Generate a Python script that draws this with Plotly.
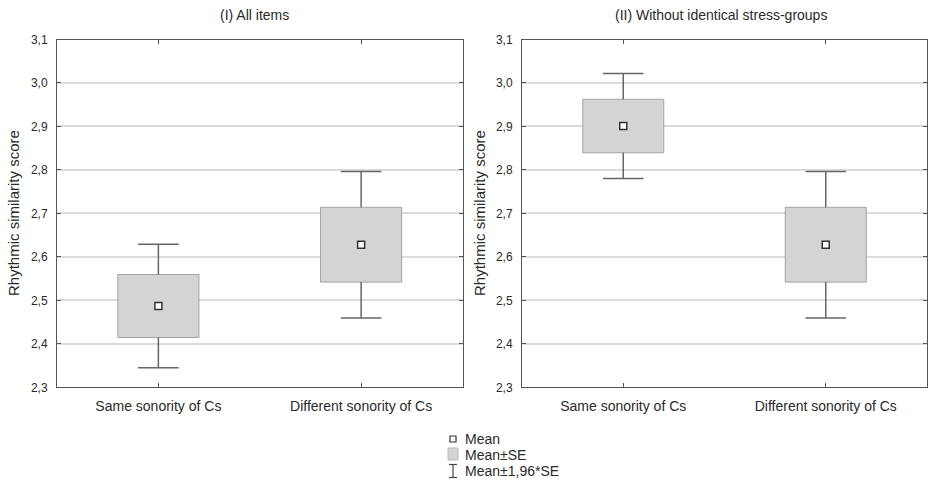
import plotly.graph_objects as go

categories = ["Same sonority of Cs", "Different sonority of Cs"]
panel_titles = ["(I) All items", "(II) Without identical stress-groups"]
means_I = [2.487, 2.628]
se_I = [0.0725, 0.086]
means_II = [2.901, 2.628]
se_II = [0.0615, 0.086]
y_ticks = [2.3, 2.4, 2.5, 2.6, 2.7, 2.8, 2.9, 3.0, 3.1]
z = 1.96

W, H = 928, 483
def px(x):
    return x / W
def py(y):
    return 1 - y / H

FONT = "Liberation Sans, Arial, sans-serif"
TXT = "#2a2a2a"

fig = go.Figure()

panels = [(means_I, se_I, "x", "y"), (means_II, se_II, "x2", "y2")]
for means, ses, xa, ya in panels:
    xs = list(range(len(categories)))
    fig.add_trace(go.Bar(
        x=xs, y=[2 * s for s in ses], base=[m - s for m, s in zip(means, ses)],
        width=0.4, marker=dict(color="#d4d4d4", line=dict(color="#a3a3a3", width=1)),
        xaxis=xa, yaxis=ya, showlegend=False, hoverinfo="skip"))
    wx, wy = [], []
    for i, (m, s) in enumerate(zip(means, ses)):
        for sign in (1, -1):
            wx += [i, i, None, i - 0.1, i + 0.1, None]
            wy += [m + sign * s, m + sign * z * s, None, m + sign * z * s, m + sign * z * s, None]
    fig.add_trace(go.Scatter(x=wx, y=wy, mode="lines", line=dict(color="#666666", width=1.5),
                             xaxis=xa, yaxis=ya, showlegend=False, hoverinfo="skip"))
    fig.add_trace(go.Scatter(x=xs, y=means, mode="markers",
                             marker=dict(symbol="square", size=7, color="white",
                                         line=dict(color="#333333", width=1.5)),
                             xaxis=xa, yaxis=ya, showlegend=False, hoverinfo="skip"))

axis_common = dict(showline=True, linecolor="#555555", linewidth=1, mirror="ticks",
                   ticks="inside", ticklen=4, tickcolor="#555555", zeroline=False,
                   automargin=False)

ydom = [py(387.3), py(39.5)]
xfont = dict(family=FONT, size=14, color=TXT)
yfont = dict(family=FONT, size=12, color=TXT)
fig.update_layout(
    template="none",
    width=W, height=H, margin=dict(l=0, r=0, t=0, b=0, pad=0, autoexpand=False),
    paper_bgcolor="white", plot_bgcolor="white", separators=", ",
    showlegend=False, barmode="overlay",
    xaxis=dict(domain=[px(57), px(462.5)], range=[-0.5, 1.5], tickvals=[0, 1], ticklabelstandoff=6,
               ticktext=categories, showgrid=False, anchor="y", tickfont=xfont, **axis_common),
    yaxis=dict(domain=ydom, range=[2.3, 3.1], tickvals=y_ticks, tickformat=".1f", tickfont=yfont,
               ticklabelstandoff=6,
               showgrid=True, gridcolor="#dcdcdc", gridwidth=1.5, anchor="x", **axis_common),
    xaxis2=dict(domain=[px(522), px(927)], range=[-0.5, 1.5], tickvals=[0, 1], ticklabelstandoff=6,
                ticktext=categories, showgrid=False, anchor="y2", tickfont=xfont, **axis_common),
    yaxis2=dict(domain=ydom, range=[2.3, 3.1], tickvals=y_ticks, tickformat=".1f", tickfont=yfont,
                ticklabelstandoff=6,
                showgrid=True, gridcolor="#dcdcdc", gridwidth=1.5, anchor="x2", **axis_common),
)

ann = []
for cx, t in zip([255, 721], panel_titles):
    ann.append(dict(x=px(cx), y=py(15), xref="paper", yref="paper", text=t, showarrow=False,
                    xanchor="center", yanchor="middle", font=dict(family=FONT, size=14, color=TXT)))
for lx in [13, 479]:
    ann.append(dict(x=px(lx), y=py(213), xref="paper", yref="paper", text="Rhythmic similarity score",
                    showarrow=False, textangle=-90, xanchor="center", yanchor="middle",
                    font=dict(family=FONT, size=15, color=TXT)))
for ty, t in [(439, "Mean"), (454.5, "Mean±SE"), (471, "Mean±1,96*SE")]:
    ann.append(dict(x=px(463), y=py(ty), xref="paper", yref="paper", text=t, showarrow=False,
                    xanchor="left", yanchor="middle", font=dict(family=FONT, size=14, color=TXT)))
fig.update_layout(annotations=ann)

shapes = [
    dict(type="rect", xref="paper", yref="paper", x0=px(450), x1=px(456), y0=py(442), y1=py(436),
         fillcolor="white", line=dict(color="#333333", width=1.2)),
    dict(type="rect", xref="paper", yref="paper", x0=px(448), x1=px(458), y0=py(460), y1=py(448),
         fillcolor="#d4d4d4", line=dict(color="#bbbbbb", width=1)),
    dict(type="line", xref="paper", yref="paper", x0=px(453), x1=px(453), y0=py(464.5), y1=py(477.5),
         line=dict(color="#444444", width=1.2)),
    dict(type="line", xref="paper", yref="paper", x0=px(449), x1=px(457), y0=py(464.5), y1=py(464.5),
         line=dict(color="#444444", width=1.2)),
    dict(type="line", xref="paper", yref="paper", x0=px(449), x1=px(457), y0=py(477.5), y1=py(477.5),
         line=dict(color="#444444", width=1.2)),
]
fig.update_layout(shapes=shapes)

css_js = (
    "var s=document.createElement('style');"
    "s.innerHTML='html,body{margin:0 !important;padding:0 !important;overflow:hidden !important;"
    "height:483px !important;width:928px !important;}';"
    "document.head.appendChild(s);"
)
fig.write_html("out.html", post_script=css_js, config={"displayModeBar": False})
